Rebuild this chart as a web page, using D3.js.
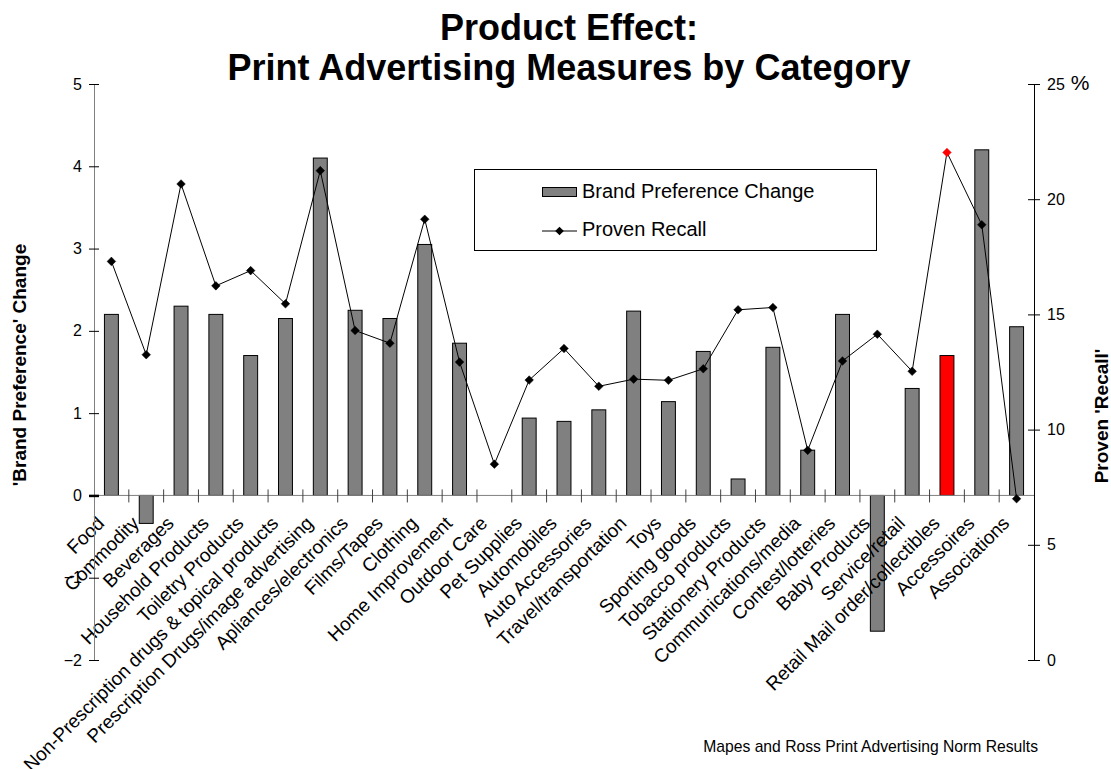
<!DOCTYPE html>
<html><head><meta charset="utf-8">
<script src="https://cdn.jsdelivr.net/npm/d3@7"></script>
<style>
body{margin:0;background:#fff}
svg{display:block}
text{font-family:"Liberation Sans", Arial, Helvetica, sans-serif}
</style>
</head><body>
<svg id="c" width="1111" height="769"></svg>
<script>
// ---- data ----
const categories = ["Food","Commodity","Beverages","Household Products","Toiletry Products",
  "Non-Prescription drugs & topical products","Prescription Drugs/image advertising",
  "Apliances/electronics","Films/Tapes","Clothing","Home Improvement","Outdoor Care",
  "Pet Supplies","Automobiles","Auto Accessories","Travel/transportation","Toys",
  "Sporting goods","Tobacco products","Stationery Products","Communications/media",
  "Contest/lotteries","Baby Products","Service/retail","Retail Mail order/collectibles",
  "Accessoires","Associations"];
const brandPreference = [2.2,-0.34,2.3,2.2,1.7,2.15,4.1,2.25,2.15,3.05,1.85,0,
  0.94,0.9,1.04,2.24,1.14,1.75,0.2,1.8,0.55,2.2,-1.65,1.3,1.7,4.2,2.05];
const provenRecall = [17.3,13.25,20.66,16.24,16.9,15.46,21.24,14.3,13.75,19.13,12.93,8.5,
  12.15,13.52,11.88,12.19,12.14,12.64,15.2,15.3,9.1,12.98,14.14,12.53,22.03,18.89,7.0];
const highlighted = "Retail Mail order/collectibles";
const leftTicks = [-2,-1,0,1,2,3,4,5];
const rightTicks = [0,5,10,15,20,25];
const titleLines = ["Product Effect:","Print Advertising Measures by Category"];
const seriesNames = ["Brand Preference Change","Proven Recall"];
const leftTitle = "'Brand Preference' Change";
const rightTitle = "Proven 'Recall'";
const footnote = "Mapes and Ross Print Advertising Norm Results";

// ---- layout ----
const P = {left:94, right:1034, top:84, bottom:660};
const svg = d3.select("#c");
svg.append("rect").attr("width",1111).attr("height",769).attr("fill","#fff");

const x = d3.scaleBand().domain(categories).range([P.left,P.right]).paddingInner(0.6).paddingOuter(0.3);
const step = x.step();
const cx = c => x(c) + x.bandwidth()/2;
const yL = d3.scaleLinear().domain([-2,5]).range([P.bottom,P.top]);
const yR = d3.scaleLinear().domain([0,25]).range([P.bottom,P.top]);
const y0 = yL(0);

// title
svg.append("text").attr("x",569).attr("y",40).attr("text-anchor","middle")
  .attr("font-size",36).attr("font-weight","bold").text(titleLines[0]);
svg.append("text").attr("x",569).attr("y",80).attr("text-anchor","middle")
  .attr("font-size",36).attr("font-weight","bold").text(titleLines[1]);

// bars
const rows = categories.map((c,i)=>({c, b:brandPreference[i], r:provenRecall[i]}));
svg.append("g").selectAll("rect").data(rows).join("rect")
  .attr("x",d=>x(d.c)).attr("width",x.bandwidth())
  .attr("y",d=>Math.min(yL(d.b),y0)).attr("height",d=>Math.abs(yL(d.b)-y0))
  .attr("fill",d=>d.c===highlighted?"#ff0000":"#808080")
  .attr("stroke","#000").attr("stroke-width",1);

// category axis at zero
const xg = svg.append("g");
xg.append("line").attr("x1",P.left).attr("x2",P.right).attr("y1",y0).attr("y2",y0)
  .attr("stroke","#808080").attr("stroke-width",1);
xg.selectAll("line.t").data(categories.slice(1)).join("line").attr("class","t")
  .attr("x1",c=>x(c)-step*0.3).attr("x2",c=>x(c)-step*0.3)
  .attr("y1",y0-6).attr("y2",y0+7).attr("stroke","#404040").attr("stroke-width",1);
xg.selectAll("text").data(categories).join("text")
  .attr("text-anchor","end").attr("font-size",19)
  .attr("transform",c=>`translate(${cx(c)-6},${y0+29}) rotate(-45)`)
  .text(c=>c);

// left axis
const la = svg.append("g").attr("transform",`translate(${P.left},0)`)
  .call(d3.axisLeft(yL).tickValues(leftTicks).tickSize(5).tickPadding(7).tickFormat(d3.format("d")));
la.select(".domain").attr("stroke","#808080");
la.selectAll(".tick line").attr("x1",5).attr("x2",-5).attr("stroke","#000")
  .attr("stroke-width",d=>d===0?2.5:1);
la.selectAll(".tick text").attr("font-size",16).attr("font-family","Liberation Sans, Arial, sans-serif").attr("fill","#000");

// right axis
const ra = svg.append("g").attr("transform",`translate(${P.right},0)`)
  .call(d3.axisRight(yR).tickValues(rightTicks).tickSize(6).tickPadding(7).tickFormat(d3.format("d")));
ra.select(".domain").attr("stroke","#000");
ra.selectAll(".tick line").attr("x1",-6).attr("x2",6).attr("stroke","#000");
ra.selectAll(".tick text").attr("font-size",16).attr("font-family","Liberation Sans, Arial, sans-serif").attr("fill","#000");
ra.selectAll(".tick").filter(d=>d===25).select("text")
  .append("tspan").attr("font-size",21).text(" %");

// line
const line = d3.line().x(d=>cx(d.c)).y(d=>yR(d.r));
svg.append("path").datum(rows).attr("d",line).attr("fill","none")
  .attr("stroke","#000").attr("stroke-width",1);
const diamond = "M0,-4.3L4.3,0L0,4.3L-4.3,0Z";
svg.append("g").selectAll("path").data(rows).join("path")
  .attr("d",diamond).attr("transform",d=>`translate(${cx(d.c)},${yR(d.r)})`)
  .attr("fill",d=>d.c===highlighted?"#ff0000":"#000")
  .attr("stroke",d=>d.c===highlighted?"#ff0000":"#000").attr("stroke-width",0.5);

// axis titles
svg.append("text").attr("transform","translate(26,365) rotate(-90)").attr("text-anchor","middle")
  .attr("font-size",19).attr("font-weight","bold").text(leftTitle);
svg.append("text").attr("transform","translate(1108,416) rotate(-90)").attr("text-anchor","middle")
  .attr("font-size",19).attr("font-weight","bold").text(rightTitle);

// legend
const lg = svg.append("g");
lg.append("rect").attr("x",474.5).attr("y",169.5).attr("width",402).attr("height",81)
  .attr("fill","#fff").attr("stroke","#000").attr("stroke-width",1);
lg.append("rect").attr("x",542.5).attr("y",187.5).attr("width",34).attr("height",9)
  .attr("fill","#808080").attr("stroke","#000");
lg.append("text").attr("x",582).attr("y",198).attr("font-size",20).text(seriesNames[0]);
lg.append("line").attr("x1",542).attr("x2",577).attr("y1",231).attr("y2",231).attr("stroke","#000");
lg.append("path").attr("d",diamond).attr("transform","translate(559.5,231)").attr("fill","#000");
lg.append("text").attr("x",582).attr("y",236).attr("font-size",20).text(seriesNames[1]);

// footnote
svg.append("text").attr("x",1038).attr("y",752).attr("text-anchor","end")
  .attr("font-size",15.7).text(footnote);
</script>
</body></html>
